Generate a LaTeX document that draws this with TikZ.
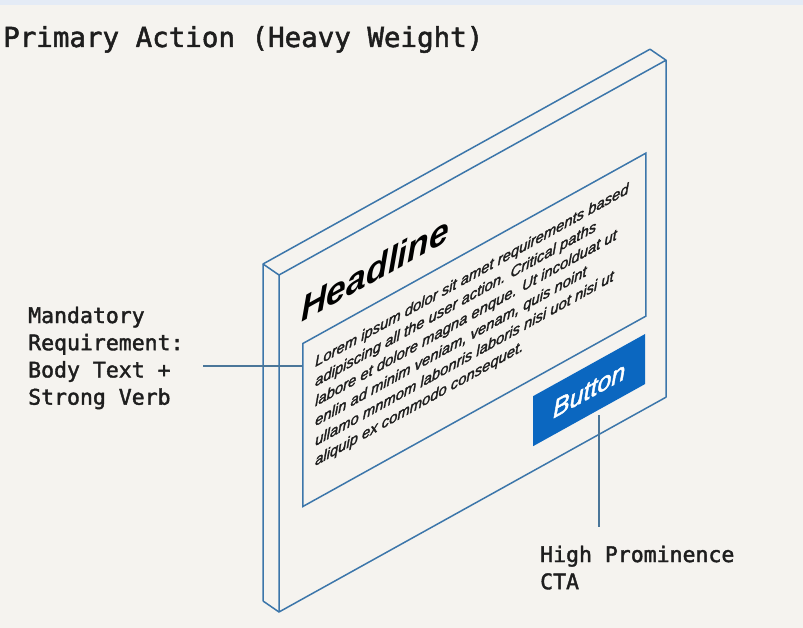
\documentclass[tikz,border=0pt]{standalone}
\usepackage{fontspec}
\setmainfont{Liberation Sans}
\newfontfamily\monofont[FakeBold=1.8]{DejaVu Sans Mono}
\newfontfamily\bodyfont[FakeBold=2]{Liberation Sans}
\usetikzlibrary{calc}
\definecolor{bg}{HTML}{F5F3EF}
\definecolor{topband}{HTML}{E4EBF6}
\definecolor{edge}{HTML}{3C76AA}
\definecolor{lead}{HTML}{4A7699}
\definecolor{btnblue}{HTML}{0B67C0}
\definecolor{ink}{HTML}{1E1E1E}
\begin{document}
\begin{tikzpicture}[x=1pt,y=-1pt,
  slab/.style={draw=edge, line width=1.5pt, line join=round},
  leader/.style={draw=lead, line width=1.4pt},
  monolabel/.style={font=\monofont\fontsize{21.5}{27.2}\selectfont, text=ink, align=left, inner sep=0pt, anchor=north west},
  bodyline/.style={font=\bodyfont\itshape\fontsize{14.8}{19.6}\selectfont, text=ink, inner sep=0pt, anchor=base west, transform shape}]

\fill[bg] (0,0) rectangle (803,628);
\fill[topband] (0,0) rectangle (803,5);
\useasboundingbox (0,0) rectangle (803,628);

% title
\node[font=\monofont\fontsize{27.5}{30}\selectfont, text=ink, inner sep=0pt, anchor=base west] (title) at (3,47) {Primary Action (Heavy Weight)};

% slab corners
\coordinate (fTL) at (279,275);
\coordinate (fTR) at (666,60.2);
\coordinate (fBR) at (666,397.2);
\coordinate (fBL) at (279,612);
\coordinate (bTL) at (263,264);
\coordinate (bTR) at (650,49.2);
\coordinate (bBL) at (263,601);

\draw[slab] (bBL) -- (bTL) -- (bTR) -- (fTR);
\draw[slab] (bTL) -- (fTL);
\draw[slab] (bBL) -- (fBL);
\draw[slab] (fTL) -- (fTR) -- (fBR) -- (fBL) -- cycle;

% content on the slanted face
\begin{scope}[shift={(279,275)}, yslant=0.555]
  \node[draw=edge, line width=1.5pt, minimum width=343pt, minimum height=163pt, inner sep=0pt, transform shape, anchor=north west] (inner) at (23,81) {};
  \node[font=\bfseries\itshape\fontsize{35.5}{36}\selectfont, text=black, inner sep=0pt, anchor=base west, transform shape] (head) at (22,60) {Headline};
  \node[bodyline] (l1) at (36,112) {Lorem ipsum dolor sit amet requirements based};
  \node[bodyline] (l2) at (36,131.8) {adipiscing all the user action. Critical paths};
  \node[bodyline] (l3) at (36,151.6) {labore et dolore magna enque. Ut incolduat ut};
  \node[bodyline] (l4) at (36,171.4) {enlin ad minim veniam, venam, quis noint};
  \node[bodyline] (l5) at (36,191.2) {ullamo mnmom labonris laboris nisi uot nisi ut};
  \node[bodyline] (l6) at (36,211) {aliquip ex commodo consequet.};
  \node[fill=btnblue, minimum width=112pt, minimum height=50pt, inner sep=0pt, transform shape, anchor=north west, text=white, font=\bodyfont\itshape\fontsize{25}{25}\selectfont] (btn) at (254,262) {Button};
\end{scope}

% labels
\node[monolabel] (mand) at (28,306.5) {Mandatory\\Requirement:\\Body Text +\\Strong Verb};
\node[monolabel] (cta) at (540,545.5) {High Prominence\\CTA};

% leaders
\coordinate (mandEnd) at (203,366);
\coordinate (ctaEnd) at (599,527);
\draw[leader] (mandEnd) -- (mandEnd -| inner.west);
\draw[leader] (ctaEnd |- btn.south) -- (ctaEnd);
\end{tikzpicture}
\end{document}
